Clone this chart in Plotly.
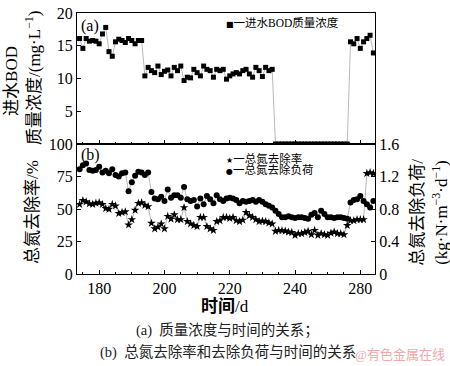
import plotly.graph_objects as go

# ---------------- data ----------------
days = [174, 175, 176, 177, 178, 179, 180, 181, 182, 183, 184, 185, 186, 187, 188, 189, 190,
        191, 192, 193, 194, 195, 196, 197, 198, 199, 200, 201, 202, 203, 204, 205, 206, 207,
        208, 209, 210, 211, 212, 213, 214, 215, 216, 217, 218, 219, 220, 221, 222, 223, 224,
        225, 226, 227, 228, 229, 230, 231, 232, 233, 234, 235, 236, 237, 238, 239, 240, 241,
        242, 243, 244, 245, 246, 247, 248, 249, 250, 251, 252, 253, 254, 255, 256, 257, 258,
        259, 260, 261, 262, 263, 264]

# influent BOD mass concentration, mg/L
bod = [16.1, 14.6, 16.1, 15.7, 15.8, 15.7, 15.3, 16.8, 17.8, 14.1, 13.4, 15.6, 16.0, 15.8,
       15.5, 16.1, 15.8, 15.3, 15.8, 15.8,
       10.4, 11.7, 11.2, 10.9, 11.9, 10.6, 11.1, 11.3, 10.4, 11.7, 11.2, 11.9, 9.7, 10.2,
       10.1, 11.4, 10.9, 10.4, 11.9, 11.4, 11.2, 10.2, 11.4, 11.2, 11.4, 9.9, 10.4, 10.7,
       10.9, 10.7, 11.2, 11.4, 10.7, 10.2, 11.7, 11.2, 10.3, 11.7, 11.2, 11.4,
       0, 0, 0, 0, 0, 0, 0, 0, 0, 0, 0, 0, 0, 0, 0, 0, 0, 0, 0, 0, 0, 0, 0,
       15.6, 15.3, 16.1, 14.6, 15.6, 16.1, 16.6, 13.9]

# total nitrogen removal rate, %
tn_rate = [53.6, 56.6, 55.6, 54.1, 53.6, 54.5, 54.9, 53.6, 50.4, 49.8, 53.6, 52.4, 46.6, 47.4,
           47.9, 37.8, 41.9, 49.1, 54.4, 54.9, 52.9, 51.9, 39.1, 34.8, 36.1, 38.6, 34.8, 44.4,
           42.3, 45.6, 41.9, 41.9, 51.1, 40.4, 38.6, 37.4, 36.6, 43.6, 43.6, 36.6, 34.8, 33.6,
           40.4, 41.1, 43.6, 43.6, 42.9, 43.6, 41.1, 40.4, 41.5, 47.4, 44.9, 43.6, 41.9, 40.4,
           40.8, 40.4, 39.3, 38.6, 32.9, 33.6, 33.4, 33.1, 32.3, 32.0, 29.8, 31.1, 31.1, 32.0,
           32.9, 30.3, 33.6, 29.8, 31.1, 30.3, 29.8, 31.5, 32.3, 31.1, 31.1, 30.3, 37.4, 41.1,
           41.1, 41.9, 41.9, 41.9, 77.4, 78.0, 77.4]

# total nitrogen removal load, kg N/(m3 d)
tn_load = [1.29, 1.34, 1.36, 1.28, 1.27, 1.28, 1.32, 1.25, 1.27, 1.24, 1.29, 1.22, 1.20, 1.24,
           1.25, 1.02, 1.13, 1.21, 1.26, 1.25, 1.22, 1.25, 1.01, 0.93, 0.92, 0.95, 0.90, 1.04,
           0.94, 0.97, 0.97, 0.94, 1.07, 0.92, 0.90, 0.91, 0.83, 0.93, 0.86, 0.96, 0.92, 0.87,
           0.97, 0.92, 0.90, 0.93, 0.94, 0.93, 0.91, 0.87, 0.90, 0.89, 0.90, 0.91, 0.89, 0.91,
           0.89, 0.86, 0.84, 0.82, 0.78, 0.74, 0.70, 0.70, 0.71, 0.70, 0.69, 0.70, 0.70, 0.69,
           0.68, 0.73, 0.75, 0.70, 0.78, 0.74, 0.70, 0.70, 0.69, 0.70, 0.70, 0.69, 0.68, 0.88,
           0.91, 0.92, 0.96, 0.90, 0.86, 0.82, 0.90]

x_tickvals = [180, 200, 220, 240, 260]
x_ticktext = ["180", "200", "220", "240", "280"]
ya_ticks = [5, 10, 15, 20]
yb_ticks = [0, 25, 50, 75, 100]
yr_ticks = [0, 0.4, 0.8, 1.2, 1.6]

# ---------------- figure ----------------
SERIF = "Liberation Serif, Noto Sans CJK SC"
LINE = dict(color="#999999", width=0.7)

fig = go.Figure()
fig.add_trace(go.Scatter(x=days, y=bod, mode="lines+markers", xaxis="x", yaxis="y",
                         line=LINE, marker=dict(symbol="square", size=5, color="black"),
                         showlegend=False))
fig.add_trace(go.Scatter(x=days, y=tn_rate, mode="lines+markers", xaxis="x2", yaxis="y3",
                         line=LINE, marker=dict(symbol="star", size=6.5, color="black"),
                         showlegend=False))
fig.add_trace(go.Scatter(x=days, y=tn_load, mode="lines+markers", xaxis="x2", yaxis="y4",
                         line=LINE, marker=dict(symbol="circle", size=6, color="black"),
                         showlegend=False))

ax_common = dict(showline=True, linecolor="black", linewidth=1, showgrid=False,
                 zeroline=False, ticks="inside", tickcolor="black", ticklen=4,
                 tickfont=dict(family=SERIF, size=16, color="black"))
xrange = [173.2, 264.5]
minor = dict(tickmode="linear", tick0=180, dtick=5, ticks="inside", ticklen=2.5,
             tickcolor="black", showgrid=False)

fig.update_layout(
    width=450, height=366,
    margin=dict(l=77, r=75, t=5, b=92),
    paper_bgcolor="white", plot_bgcolor="white",
    font=dict(family=SERIF, color="black"),
    xaxis=dict(domain=[0, 1], anchor="y", range=xrange, tickvals=x_tickvals,
               showticklabels=False, mirror=True, minor=minor, **ax_common),
    yaxis=dict(domain=[0.498, 1], anchor="x", range=[0, 20], tickvals=ya_ticks,
               mirror=True, **ax_common),
    xaxis2=dict(domain=[0, 1], anchor="y3", range=xrange, tickvals=x_tickvals,
                ticktext=x_ticktext, mirror=True, minor=minor, **ax_common),
    yaxis3=dict(domain=[0, 0.498], anchor="x2", range=[0, 100], tickvals=yb_ticks,
                mirror=True, **ax_common),
    yaxis4=dict(overlaying="y3", side="right", anchor="x2", range=[0, 1.6],
                tickvals=yr_ticks, ticktext=["0", "0.4", "0.8", "1.2", "1.6"], **ax_common),
)

def px2paper(px, py):
    return (px - 77) / 298.0, (274 - py) / 269.0

annotations = []

def add_text(text, px, py, size, angle=0, xanchor="center", color="black"):
    x, y = px2paper(px, py)
    annotations.append(dict(text=text, x=x, y=y, xref="paper", yref="paper",
                            xanchor=xanchor, yanchor="middle", showarrow=False,
                            textangle=angle, font=dict(family=SERIF, size=size, color=color)))

# axis titles
add_text("进水BOD", 12, 75, 17, angle=-90)
add_text("质量浓度/(mg·L<sup>−1</sup>)", 33, 72, 17, angle=-90)
add_text("总氮去除率/%", 33, 210, 17, angle=-90)
add_text("总氮去除负荷/", 418, 211, 17, angle=-90)
add_text("(kg·N·m<sup>−3</sup>·d<sup>−1</sup>)", 440, 211, 17, angle=-90)
add_text("<b>时间</b>/d", 225, 307, 17)

# panel labels
add_text("(a)", 90, 18, 16)
add_text("(b)", 90, 151, 16)

# legends
SYM = '<span style="font-family:DejaVu Sans;font-size:8px">{}</span>'
add_text(SYM.format("■") + "一进水BOD质量浓度", 224, 15, 11.5, xanchor="left")
add_text(SYM.format("★") + "一总氮去除率", 224, 155, 11.5, xanchor="left")
add_text(SYM.format("●") + "一总氮去除负荷", 224, 166.5, 11.5, xanchor="left")

# captions
add_text("(a)  质量浓度与时间的关系；", 134, 332, 14.5, xanchor="left", color="#222222")
add_text("(b)  总氮去除率和去除负荷与时间的关系", 98, 355, 14.5, xanchor="left", color="#222222")
add_text("@有色金属在线", 353, 357, 13, xanchor="left", color="#f0a8a8")

fig.update_layout(annotations=annotations)

fig.write_html("out.html", config={"displayModeBar": False},
               post_script="document.body.style.margin='0';document.body.style.padding='0';")
